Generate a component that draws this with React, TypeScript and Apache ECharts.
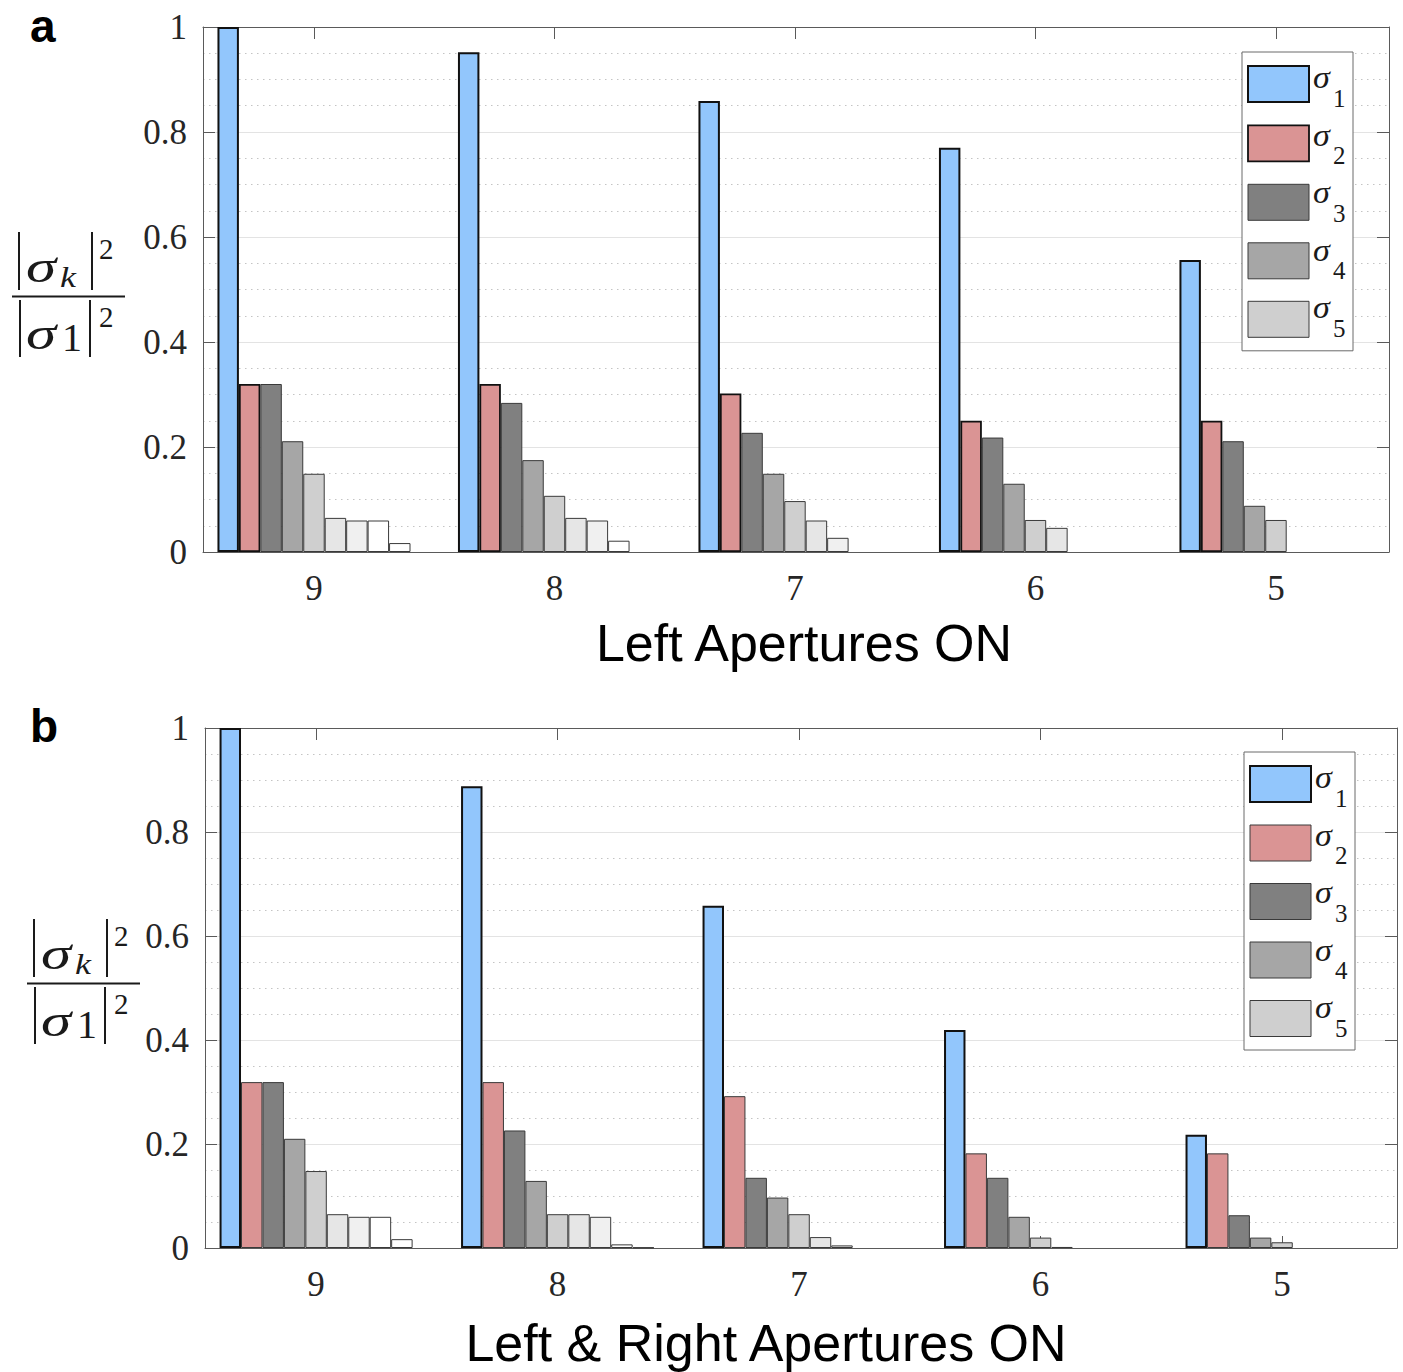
import React, { useEffect, useRef } from "react";
import * as echarts from "echarts";

// ---- categories / ticks ----
const categories = ["9", "8", "7", "6", "5"];
const positions = [1, 2, 3, 4, 5];
const sigmaNames = ["σ1", "σ2", "σ3", "σ4", "σ5", "σ6", "σ7", "σ8", "σ9"];
const legendNames = ["σ1", "σ2", "σ3", "σ4", "σ5"];
const legendSubs = ["1", "2", "3", "4", "5"];
const titleA = "Left Apertures ON";
const titleB = "Left & Right Apertures ON";

// ---- panel a: Left Apertures ON (values per category 9,8,7,6,5) ----
const aSigma1 = [1.0, 0.952, 0.859, 0.77, 0.556];
const aSigma2 = [0.32, 0.32, 0.302, 0.25, 0.25];
const aSigma3 = [0.32, 0.284, 0.227, 0.218, 0.211];
const aSigma4 = [0.211, 0.175, 0.149, 0.13, 0.088];
const aSigma5 = [0.149, 0.107, 0.097, 0.061, 0.061];
const aSigma6 = [0.065, 0.065, 0.06, 0.046, null];
const aSigma7 = [0.06, 0.06, 0.027, null, null];
const aSigma8 = [0.06, 0.0215, null, null, null];
const aSigma9 = [0.017, null, null, null, null];

// ---- panel b: Left & Right Apertures ON ----
const bSigma1 = [1.0, 0.888, 0.658, 0.419, 0.218];
const bSigma2 = [0.319, 0.319, 0.292, 0.182, 0.182];
const bSigma3 = [0.319, 0.226, 0.135, 0.135, 0.063];
const bSigma4 = [0.21, 0.129, 0.097, 0.06, 0.02];
const bSigma5 = [0.148, 0.065, 0.065, 0.02, 0.011];
const bSigma6 = [0.065, 0.065, 0.021, 0.002, null];
const bSigma7 = [0.06, 0.06, 0.005, null, null];
const bSigma8 = [0.06, 0.007, null, null, null];
const bSigma9 = [0.017, 0.001, null, null, null];

const panelA = [aSigma1, aSigma2, aSigma3, aSigma4, aSigma5, aSigma6, aSigma7, aSigma8, aSigma9];
const panelB = [bSigma1, bSigma2, bSigma3, bSigma4, bSigma5, bSigma6, bSigma7, bSigma8, bSigma9];

const colors = ["#92C6FC", "#DA9494", "#808080", "#A6A6A6", "#CFCFCF", "#E6E6E6", "#F0F0F0", "#FFFFFF", "#FFFFFF"];

const SERIF = "'Liberation Serif', 'DejaVu Serif', serif";
const SANS = "'Liberation Sans', Arial, sans-serif";
const FRAME = "#5a5a5a";
const INK = "#1a1a1a";

function borderFor(panel: string, s: number) {
  if (s === 0) return { borderColor: "#111", borderWidth: 2 };
  if (s === 1 && panel === "a") return { borderColor: "#111", borderWidth: 1.8 };
  return { borderColor: "#3a3a3a", borderWidth: 1 };
}

function makeSeries(values: (number | null)[][], axisIndex: number, panel: string) {
  return values.map((vals, s) => ({
    type: "bar",
    name: sigmaNames[s],
    xAxisIndex: axisIndex,
    yAxisIndex: axisIndex,
    barWidth: 21.45,
    barGap: "0%",
    data: vals
      .map((v, c) => [positions[c], v])
      .filter((d) => d[1] !== null && d[1] !== undefined),
    itemStyle: { color: colors[s], ...borderFor(panel, s) },
    emphasis: { disabled: true },
    silent: true,
  }));
}

function xAxes(gridIndex: number, min: number, max: number) {
  const common = {
    type: "value",
    gridIndex,
    min,
    max,
    splitLine: { show: false },
    axisLine: { show: true, onZero: false, lineStyle: { color: FRAME, width: 1 } },
    axisTick: { show: true, inside: true, length: 12, customValues: positions, lineStyle: { color: FRAME } },
  };
  return [
    {
      ...common,
      position: "bottom",
      axisLabel: {
        show: true,
        customValues: positions,
        formatter: (v: number) => categories[Math.round(v) - 1] ?? "",
        fontFamily: SERIF,
        fontSize: 35,
        color: "#262626",
        margin: 19,
      },
    },
    { ...common, position: "top", axisLabel: { show: false } },
  ];
}

function yAxes(gridIndex: number) {
  const common = {
    type: "value",
    gridIndex,
    min: 0,
    max: 1,
    interval: 0.2,
    axisLine: { show: true, onZero: false, lineStyle: { color: FRAME, width: 1 } },
    axisTick: { show: true, inside: true, length: 12, lineStyle: { color: FRAME } },
    minorTick: { show: false, splitNumber: 4 },
  };
  return [
    {
      ...common,
      position: "left",
      axisLabel: { fontFamily: SERIF, fontSize: 35, color: "#262626", margin: 16 },
      splitLine: { show: true, lineStyle: { color: "#e3e3e3", width: 1 } },
      minorSplitLine: { show: true, lineStyle: { color: "#c4c4c4", width: 1, type: [1.5, 4.5] } },
    },
    {
      ...common,
      position: "right",
      axisLabel: { show: false },
      splitLine: { show: false },
      minorSplitLine: { show: false },
    },
  ];
}

function legendFor(left: number, top: number, panel: string) {
  return {
    show: true,
    orient: "vertical",
    left,
    top,
    selectedMode: false,
    backgroundColor: "#ffffff",
    borderColor: "#6a6a6a",
    borderWidth: 1,
    padding: [13, 43, 13, 5],
    itemWidth: 61,
    itemHeight: 36,
    itemGap: 21.5,
    icon: "rect",
    data: legendNames.map((n, s) => ({
      name: n,
      itemStyle: { color: colors[s], ...borderFor(panel, s) },
    })),
    formatter: () => "",
    textStyle: { fontSize: 1 },
  };
}

// legend labels (σ with subscript) drawn as text next to each legend swatch
function legendLabels(ox: number, oy: number) {
  const out: any[] = [];
  legendSubs.forEach((sub, i) => {
    const cy = oy + i * 57.5;
    out.push({
      type: "text",
      x: ox,
      y: cy,
      z: 100,
      scaleX: 1.1,
      style: { text: "σ", font: `italic 31px ${SERIF}`, fill: INK, align: "left", verticalAlign: "middle" },
      silent: true,
    });
    out.push({
      type: "text",
      x: ox + 20,
      y: cy + 20,
      z: 100,
      style: { text: sub, font: `25px ${SERIF}`, fill: INK, align: "left", verticalAlign: "middle" },
      silent: true,
    });
  });
  return out;
}

function fraction(ox: number, oy: number) {
  const bar = (x: number, y1: number, y2: number) => ({
    type: "line",
    shape: { x1: x + ox, y1: y1 + oy, x2: x + ox, y2: y2 + oy },
    style: { stroke: INK, lineWidth: 2 },
    silent: true,
  });
  const txt = (text: string, x: number, y: number, size: number, italic: boolean, sx = 1) => ({
    type: "text",
    x: x + ox,
    y: y + oy,
    scaleX: sx,
    style: {
      text,
      font: `${italic ? "italic " : ""}${size}px ${SERIF}`,
      fill: INK,
      align: "left",
      verticalAlign: "middle",
    },
    silent: true,
  });
  return [
    bar(19, 232, 290),
    txt("σ", 26, 266, 47, true, 1.3),
    txt("k", 60, 277, 30, true, 1.2),
    bar(92, 232, 290),
    txt("2", 99, 249, 29, false),
    {
      type: "line",
      shape: { x1: 12 + ox, y1: 296.5 + oy, x2: 125 + ox, y2: 296.5 + oy },
      style: { stroke: INK, lineWidth: 2 },
      silent: true,
    },
    bar(20, 300, 357),
    txt("σ", 26, 333, 47, true, 1.3),
    txt("1", 62, 337, 40, false),
    bar(90, 300, 357),
    txt("2", 99, 317, 29, false),
  ];
}

export default function App() {
  const ref = useRef<HTMLDivElement>(null);
  useEffect(() => {
    if (!ref.current) return;
    const chart = echarts.init(ref.current, undefined, { renderer: "svg" });
    const option: any = {
      animation: false,
      backgroundColor: "#ffffff",
      grid: [
        { left: 203, top: 27, width: 1186, height: 525, containLabel: false },
        { left: 205, top: 728, width: 1192, height: 520, containLabel: false },
      ],
      xAxis: [...xAxes(0, 0.5385, 5.47), ...xAxes(1, 0.54, 5.476)],
      yAxis: [...yAxes(0), ...yAxes(1)],
      legend: [legendFor(1242, 52, "a"), legendFor(1244, 752, "b")],
      series: [...makeSeries(panelA, 0, "a"), ...makeSeries(panelB, 2, "b")],
      graphic: [
        {
          type: "text",
          x: 30,
          y: 26,
          style: { text: "a", font: `bold 46px ${SANS}`, fill: "#000", align: "left", verticalAlign: "middle" },
        },
        {
          type: "text",
          x: 30,
          y: 726,
          style: { text: "b", font: `bold 46px ${SANS}`, fill: "#000", align: "left", verticalAlign: "middle" },
        },
        {
          type: "text",
          x: 804,
          y: 643,
          style: { text: titleA, font: `52px ${SANS}`, fill: "#000", align: "center", verticalAlign: "middle" },
        },
        {
          type: "text",
          x: 766,
          y: 1343,
          style: { text: titleB, font: `52px ${SANS}`, fill: "#000", align: "center", verticalAlign: "middle" },
        },
        ...fraction(0, 0),
        ...fraction(15, 687),
        ...legendLabels(1313, 78),
        ...legendLabels(1315, 778),
      ],
    };
    chart.setOption(option);
    return () => chart.dispose();
  }, []);
  return (
    <div
      ref={ref}
      style={{ position: "absolute", left: 0, top: 0, width: 1403, height: 1372, background: "#fff" }}
    />
  );
}
